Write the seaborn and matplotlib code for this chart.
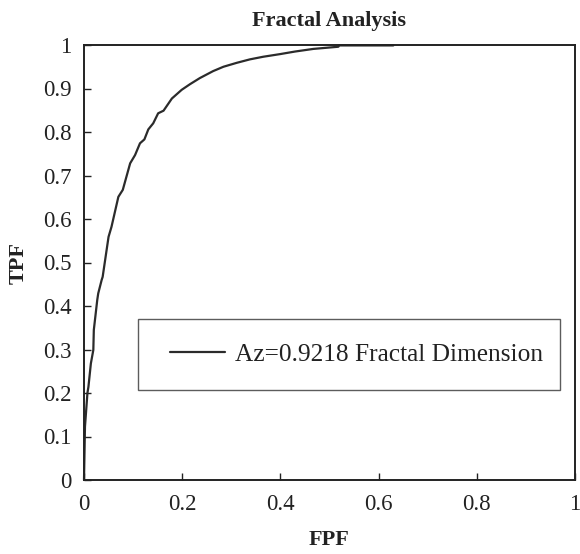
import matplotlib
matplotlib.use("Agg")
import matplotlib.pyplot as plt
from matplotlib.lines import Line2D
from matplotlib.legend_handler import HandlerLine2D
import seaborn as sns
import pandas as pd

fpf = [0, 0.002, 0.003, 0.007, 0.009, 0.014, 0.019, 0.020, 0.027, 0.029, 0.036, 0.038,
       0.050, 0.056, 0.070, 0.079, 0.094, 0.104, 0.114, 0.123, 0.131, 0.141, 0.151,
       0.162, 0.179, 0.199, 0.216, 0.236, 0.263, 0.284, 0.311, 0.338, 0.365, 0.399,
       0.430, 0.467, 0.518, 0.520, 0.630]
tpf = [0, 0.123, 0.138, 0.200, 0.214, 0.268, 0.299, 0.345, 0.414, 0.429, 0.460, 0.467,
       0.559, 0.582, 0.651, 0.667, 0.728, 0.747, 0.774, 0.783, 0.806, 0.820, 0.843,
       0.849, 0.877, 0.897, 0.910, 0.924, 0.940, 0.950, 0.959, 0.967, 0.973, 0.979,
       0.985, 0.991, 0.996, 0.999, 0.999]
series_label = "Az=0.9218 Fractal Dimension"
title = "Fractal Analysis"
x_label = "FPF"
y_label = "TPF"
x_ticks = [0, 0.2, 0.4, 0.6, 0.8, 1.0]
x_tick_labels = ["0", "0.2", "0.4", "0.6", "0.8", "1"]
y_ticks = [0, 0.1, 0.2, 0.3, 0.4, 0.5, 0.6, 0.7, 0.8, 0.9, 1.0]
y_tick_labels = ["0", "0.1", "0.2", "0.3", "0.4", "0.5", "0.6", "0.7", "0.8", "0.9", "1"]

sns.set_style("white")
plt.rcParams["font.family"] = ["Liberation Serif", "DejaVu Serif"]

df = pd.DataFrame({"FPF": fpf, "TPF": tpf, "series": series_label})

fig = plt.figure(figsize=(5.8, 5.54), dpi=100)
ax = fig.add_axes([84 / 580, 74 / 554, 491 / 580, 435 / 554])

sns.lineplot(data=df, x="FPF", y="TPF", hue="series", palette=["#2b2b2b"],
             sort=False, estimator=None, linewidth=1.6, ax=ax, clip_on=False)

ax.set_xlim(0, 1)
ax.set_ylim(0, 1)
ax.set_xticks(x_ticks)
ax.set_xticklabels(x_tick_labels)
ax.set_yticks(y_ticks)
ax.set_yticklabels(y_tick_labels)
ax.tick_params(axis="both", direction="in", length=5, width=1.0, color="#222222",
               labelsize=16.5, labelcolor="#222222")
ax.tick_params(axis="x", pad=10)
ax.tick_params(axis="y", pad=9)
ax.tick_params(bottom=True, left=True, top=False, right=False)
for s in ax.spines.values():
    s.set_color("#222222")
    s.set_linewidth(1.4)

ax.set_title(title, fontsize=16, fontweight="bold", color="#222222", pad=14)
ax.set_xlabel(x_label, fontsize=16, fontweight="bold", color="#222222")
ax.xaxis.label.set_va("center")
ax.xaxis.set_label_coords(0.5, -(540 - 480) / 435)
ax.set_ylabel(y_label, fontsize=16, fontweight="bold", color="#222222", labelpad=10)

leg = ax.legend(loc="center", bbox_to_anchor=(0.110, 0.205, 0.859, 0.167), mode="expand",
                fontsize=18.3, frameon=True, fancybox=False, handlelength=2.48,
                handletextpad=0.4, borderpad=0.93, borderaxespad=0,
                handler_map={Line2D: HandlerLine2D(xpad=0.32)})
leg.get_frame().set_edgecolor("#333333")
leg.get_frame().set_linewidth(1.0)
for t in leg.get_texts():
    t.set_color("#222222")

fig.savefig("out.png", dpi=100)
